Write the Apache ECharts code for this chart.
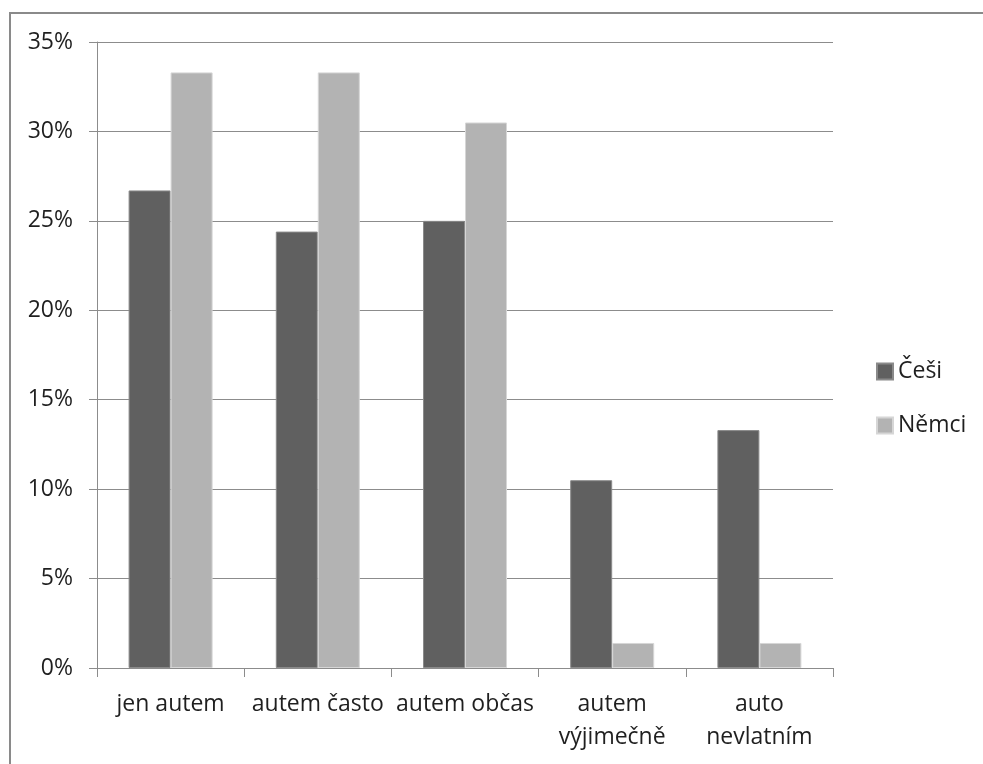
<!DOCTYPE html>
<html>
<head>
<meta charset="utf-8">
<script src="https://cdn.jsdelivr.net/npm/echarts@6/dist/echarts.min.js"></script>
<style>
  html, body { margin: 0; padding: 0; background: #fff; }
  #chart { width: 983px; height: 764px; }
</style>
</head>
<body>
<div id="chart"></div>
<script>
// Podíl respondentů podle způsobu dopravy
const categories = ['jen autem', 'autem často', 'autem občas', 'autem\nvýjimečně', 'auto\nnevlatním'];
const cesi = [26.7, 24.4, 25.0, 10.5, 13.3];
const nemci = [33.3, 33.3, 30.5, 1.4, 1.4];
const seriesNames = ['Češi', 'Němci'];

const FONT = '"Open Sans", "Noto Sans", sans-serif';
const TEXT = '#1f1f1f';
const LINE = '#8c8c8c';

const chart = echarts.init(document.getElementById('chart'), null, { renderer: 'canvas' });

chart.setOption({
  backgroundColor: '#ffffff',
  animation: false,
  textStyle: { fontFamily: FONT },
  graphic: [{
    type: 'rect',
    silent: true,
    shape: { x: 10, y: 13, width: 1000, height: 800 },
    style: { fill: 'none', stroke: '#8a8a8a', lineWidth: 2 }
  }],
  legend: {
    orient: 'vertical',
    left: 871,
    top: 355,
    itemWidth: 16,
    itemHeight: 16,
    itemGap: 31,
    icon: 'rect',
    textStyle: { fontFamily: FONT, fontSize: 23, color: TEXT },
    data: seriesNames
  },
  grid: { left: 97, right: 150, top: 42, bottom: 96, containLabel: false },
  xAxis: {
    type: 'category',
    data: categories,
    axisLine: { lineStyle: { color: LINE, width: 1 } },
    axisTick: { show: true, length: 9, lineStyle: { color: LINE } },
    axisLabel: {
      fontFamily: FONT, fontSize: 23, color: TEXT,
      lineHeight: 33, margin: 20, interval: 0
    }
  },
  yAxis: {
    type: 'value',
    min: 0, max: 35, interval: 5,
    axisLine: { show: true, lineStyle: { color: LINE, width: 1 } },
    axisTick: { show: true, length: 8, lineStyle: { color: LINE } },
    splitLine: { lineStyle: { color: LINE, width: 1 } },
    axisLabel: {
      formatter: '{value}%',
      fontFamily: FONT, fontSize: 23, color: TEXT, margin: 24
    }
  },
  series: [
    {
      name: seriesNames[0],
      type: 'bar',
      data: cesi,
      barWidth: 42,
      barGap: '0%',
      itemStyle: { color: '#606060', borderColor: '#8a8a8a', borderWidth: 1 }
    },
    {
      name: seriesNames[1],
      type: 'bar',
      data: nemci,
      barWidth: 42,
      barGap: '0%',
      itemStyle: { color: '#b3b3b3', borderColor: '#d6d6d6', borderWidth: 1 }
    }
  ]
});
</script>
</body>
</html>
